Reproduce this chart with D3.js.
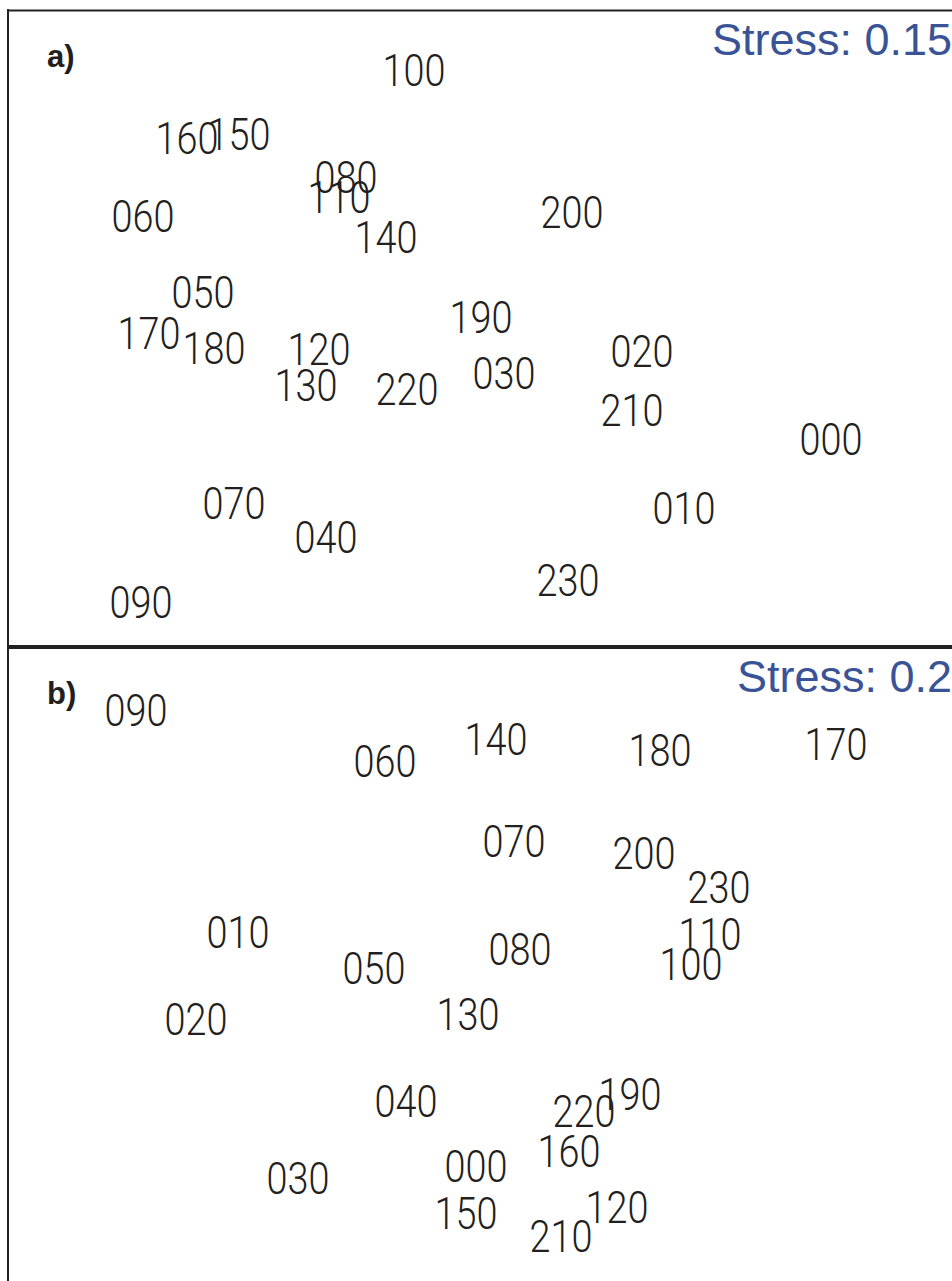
<!DOCTYPE html>
<html lang="en">
    <head>
       <script src="https://d3js.org/d3.v7.min.js"></script>
       <style>
         body { margin: 0; background: #fff; }
       </style>
    </head>
    <body>

        <script>
            var width  = 952;
            var height = 1281;

            // configuration labels (hour of day)
            var labelsA = ["100","160","150","080","110","140","060","200","050","170","180","190",
                           "120","130","220","030","020","210","000","070","040","010","230","090"];
            var dim1A   = [41.4,18.7,23.9,34.6,33.9,38.6,14.3,57.2,20.3,14.9,21.4,48.1,
                           31.9,30.6,40.7,50.4,64.2,63.2,83.1,23.4,32.6,68.4,56.8,14.1];
            var dim2A   = [55.4,48.6,49.0,44.7,42.7,38.7,40.8,41.2,33.2,29.1,27.6,30.7,
                           27.5,23.9,23.5,25.1,27.3,21.4,18.5,12.1,8.7,11.6,4.4,2.2];

            var labelsB = ["090","140","060","180","170","070","200","230","010","110","100","080",
                           "050","020","130","040","220","190","160","000","030","150","210","120"];
            var dim1B   = [13.6,49.6,38.5,66.0,83.6,51.4,64.4,71.9,23.8,71.0,69.1,52.0,
                           37.4,19.6,46.8,40.6,58.4,63.0,56.9,47.6,29.8,46.6,56.1,61.7];
            var dim2B   = [55.1,52.2,50.0,51.1,51.7,42.0,40.8,37.4,32.9,32.7,29.7,31.2,
                           29.3,24.2,24.7,16.0,15.0,16.7,11.0,9.5,8.3,4.8,2.5,5.4];

            var panelNames = ["a)", "b)"];
            var stressVals = ["0.15", "0.2"];

            var svg = d3.select("body")
                        .append("svg")
                        .attr("width", width)
                        .attr("height", height);

            var panels = [
                {name: panelNames[0], stress: stressVals[0], top: 10,  labels: labelsA, d1: dim1A, d2: dim2A},
                {name: panelNames[1], stress: stressVals[1], top: 647, labels: labelsB, d1: dim1B, d2: dim2B}
            ];

            var x = d3.scaleLinear().domain([0, 95.2]).range([0, width]);

            panels.forEach(function(p) {
                var y = d3.scaleLinear().domain([0, 63]).range([p.top + 630, p.top]);
                var g = svg.append("g");

                // condensed light look: squeeze Roboto Light horizontally
                g.selectAll("text.lab")
                  .data(p.labels)
                  .enter().append("text")
                  .attr("class", "lab")
                  .attr("transform", function(d, i) {
                      return "translate(" + x(p.d1[i]) + "," + y(p.d2[i]) + ") scale(0.86,1)";
                  })
                  .attr("text-anchor", "middle")
                  .style("font-family", "Roboto, 'Liberation Sans', sans-serif")
                  .style("font-weight", 300)
                  .style("font-size", "44px")
                  .style("fill", "#231f20")
                  .text(function(d) { return d; });

                g.append("text")
                  .attr("x", 47)
                  .attr("y", p.top + 57)
                  .style("font-family", "'Liberation Sans', Arial, sans-serif")
                  .style("font-weight", "bold")
                  .style("font-size", "31px")
                  .style("fill", "#231f20")
                  .text(p.name);

                g.append("text")
                  .attr("x", 952)
                  .attr("y", p.top + 45)
                  .attr("text-anchor", "end")
                  .style("font-family", "'Liberation Sans', Arial, sans-serif")
                  .style("font-size", "45px")
                  .style("fill", "#3a5396")
                  .text("Stress: " + p.stress);
            });

            // frame lines
            svg.append("line").attr("x1", 8).attr("x2", 8).attr("y1", 9).attr("y2", height)
               .style("stroke", "#222").style("stroke-width", 2);
            svg.append("line").attr("x1", 7).attr("x2", width).attr("y1", 10.5).attr("y2", 10.5)
               .style("stroke", "#222").style("stroke-width", 2);
            svg.append("line").attr("x1", 7).attr("x2", width).attr("y1", 647).attr("y2", 647)
               .style("stroke", "#222").style("stroke-width", 4);
        </script>

    </body>
</html>
